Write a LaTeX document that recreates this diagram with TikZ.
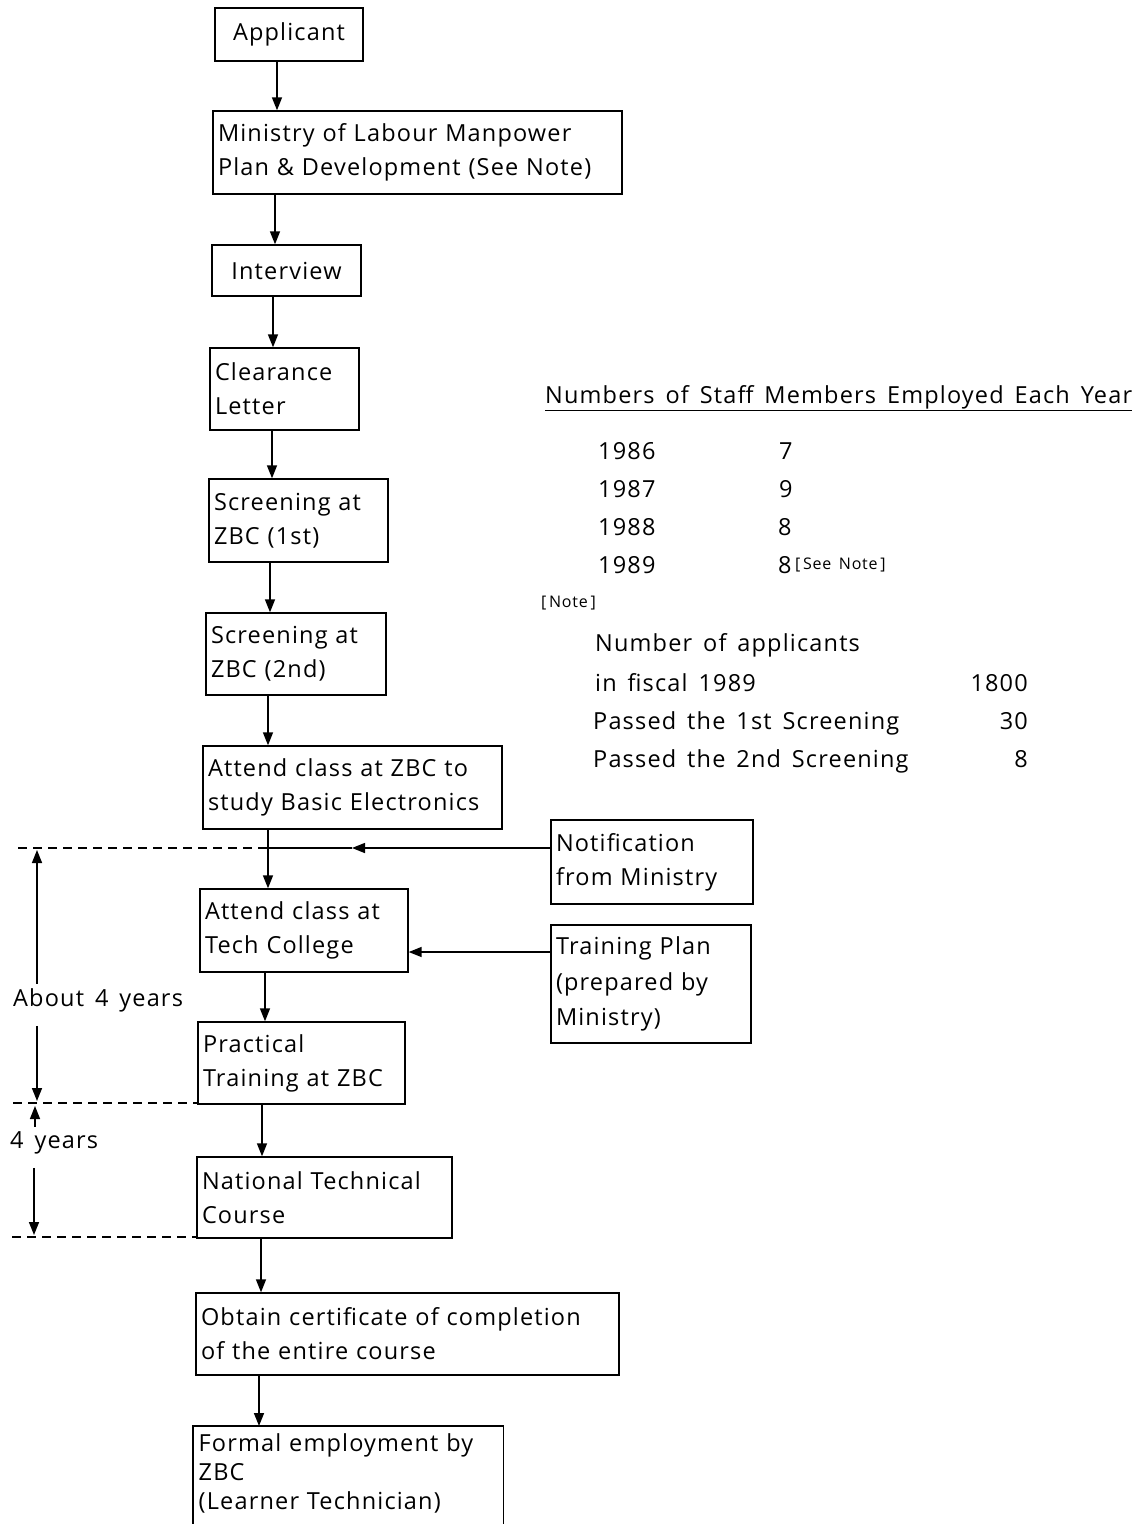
\documentclass[tikz,border=0pt]{standalone}
\usepackage{fontspec}
\setmainfont{Open Sans}[LetterSpace=5,WordSpace=1.5]
\usetikzlibrary{arrows.meta,calc}
\begin{document}
\begin{tikzpicture}[x=1pt,y=-1pt,
  every node/.style={font=\fontsize{23.5}{34}\selectfont},
  box/.style={draw, line width=1.4pt, inner xsep=5pt, inner ysep=0pt, align=left},
  cbox/.style={draw, line width=1.4pt, inner sep=0pt, align=center},
  arr/.style={line width=1.5pt, -{Triangle[length=13pt,width=10pt]}},
  dashline/.style={line width=1.2pt, dash pattern=on 9pt off 6pt},
  lbl/.style={inner sep=0pt, anchor=base west},
  rlbl/.style={inner sep=0pt, anchor=base east},
  small/.style={font=\fontsize{16}{18}\selectfont}]
\useasboundingbox (0,0) rectangle (1138,1524);
\fill[white] (0,0) rectangle (1138,1524);

% flow boxes
\node[cbox, minimum width=148pt, minimum height=53pt] (app) at (289,34.5) {\raisebox{-3pt}{Applicant}};
\node[box, text width=399pt, minimum height=83pt] (min) at (417.5,152.5) {Ministry of Labour Manpower\\Plan \& Development (See Note)};
\node[cbox, minimum width=149pt, minimum height=51pt] (int) at (286.5,270.5) {\raisebox{-1pt}{Interview}};
\node[box, text width=139pt, minimum height=82pt] (clr) at (284.5,389) {Clearance\\Letter};
\node[box, text width=169pt, minimum height=83pt] (s1) at (298.5,520.5) {Screening at\\ZBC (1st)};
\node[box, text width=170pt, minimum height=82pt] (s2) at (296,654) {Screening at\\ZBC (2nd)};
\node[box, text width=289pt, minimum height=83pt] (azbc) at (352.5,787.5) {Attend class at ZBC to\\study Basic Electronics};
\node[box, text width=198pt, minimum height=83pt] (tech) at (304,930.5) {Attend class at\\Tech College};
\node[box, text width=197pt, minimum height=82pt] (prac) at (301.5,1063) {Practical\\Training at ZBC};
\node[box, text width=245pt, minimum height=81pt] (ntc) at (324.5,1197.5) {National Technical\\Course};
\node[box, text width=413pt, minimum height=82pt] (cert) at (407.5,1334) {Obtain certificate of completion\\of the entire course};
\node[box, draw=none, anchor=north west, text width=299pt, inner ysep=7pt,
      font=\fontsize{23.5}{29}\selectfont] (form) at (193,1426) {Formal employment by\\ZBC\\(Learner Technician)};
\draw[line width=1.4pt] ($(form.north west)+(0,140)$) -- (form.north west) -- (form.north east) -- ++(0,140);

% side boxes
\node[box, text width=192pt, minimum height=84pt] (notif) at (652,862) {Notification\\from Ministry};
\node[box, text width=190pt, minimum height=118pt, font=\fontsize{23.5}{35.5}\selectfont] (tplan) at (651,984) {Training Plan\\(prepared by\\Ministry)};

% vertical flow arrows
\draw[arr] (277,0 |- app.south) -- (277,0 |- min.north);
\draw[arr] (275,0 |- min.south) -- (275,0 |- int.north);
\draw[arr] (273,0 |- int.south) -- (273,0 |- clr.north);
\draw[arr] (272,0 |- clr.south) -- (272,0 |- s1.north);
\draw[arr] (270,0 |- s1.south) -- (270,0 |- s2.north);
\draw[arr] (268,0 |- s2.south) -- (268,0 |- azbc.north);
\draw[arr] (268,0 |- azbc.south) -- (268,0 |- tech.north);
\draw[arr] (265,0 |- tech.south) -- (265,0 |- prac.north);
\draw[arr] (262,0 |- prac.south) -- (262,0 |- ntc.north);
\draw[arr] (261,0 |- ntc.south) -- (261,0 |- cert.north);
\draw[arr] (259,0 |- cert.south) -- (259,0 |- form.north);

% side arrows
\coordinate (j1) at (268,848);
\coordinate (na) at (352,848);
\draw[arr] (notif.west |- na) -- (na);
\draw[line width=1.5pt] (na) -- (j1);
\draw[arr] (tplan.west |- 0,952) -- (tech.east |- 0,952);

% dashed period lines
\coordinate (dl1) at (18,848);
\coordinate (dl2) at (13,1103);
\coordinate (dl3) at (12,1237);
\draw[dashline] (dl1) -- (j1);
\draw[dashline] (dl2) -- (dl2 -| prac.west);
\draw[dashline] (dl3) -- (dl3 -| ntc.west);

% dimension labels
\node[lbl] (about) at (13,1006) {About 4 years};
\node[lbl] (yrs) at (10,1148) {4 years};
\draw[arr, shorten <=4pt] (37,0 |- about.north) -- (37,850);
\draw[arr, shorten <=14pt] (37,0 |- about.south) -- (37,1101);
\draw[arr, shorten <=4pt] (35,0 |- yrs.north) -- (35,1106);
\draw[arr, shorten <=14pt] (34,0 |- yrs.south) -- (34,1235);

% right-hand table
\node[lbl] (hdr) at (545,403) {\underline{Numbers of Staff Members Employed Each Year}};
\node[lbl] (y86) at (598,459) {1986};
\node[lbl] (n86) at (779,459) {7};
\node[lbl] (y87) at (598,497) {1987};
\node[lbl] (n87) at (779,497) {9};
\node[lbl] (y88) at (598,535) {1988};
\node[lbl] (n88) at (778,535) {8};
\node[lbl] (y89) at (598,573) {1989};
\node[lbl] (n89) at (778,573) {8};
\node[lbl, small] (see) at (795,569) {[\,See Note\,]};
\node[lbl, small] (note) at (541,607) {[\,Note\,]};
\node[lbl] (a1) at (595,651) {Number of applicants};
\node[lbl] (a2) at (595,691) {in fiscal 1989};
\node[rlbl] (v2) at (1028,691) {1800};
\node[lbl] (a3) at (593,729) {Passed the 1st Screening};
\node[rlbl] (v3) at (1028,729) {30};
\node[lbl] (a4) at (593,767) {Passed the 2nd Screening};
\node[rlbl] (v4) at (1028,767) {8};
\end{tikzpicture}
\end{document}
